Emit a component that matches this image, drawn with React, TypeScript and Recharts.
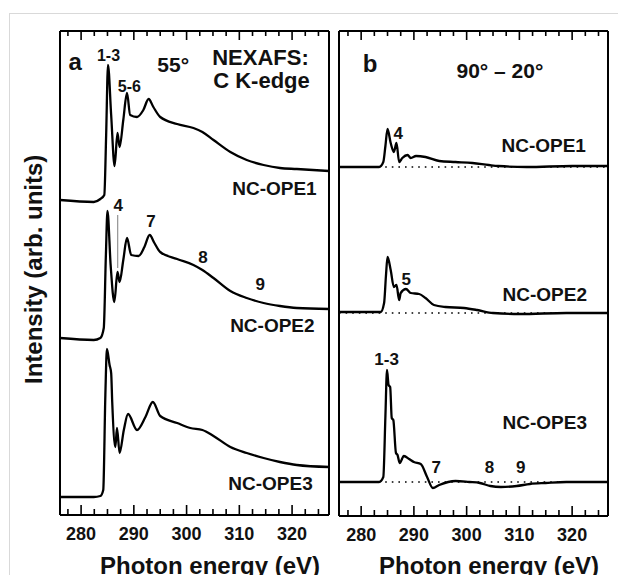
import React from 'react';
import { LineChart, Line, XAxis, YAxis, ReferenceLine, ReferenceDot } from 'recharts';

const FONT = '"Liberation Sans", Arial, Helvetica, sans-serif';

// ---------- tick values (eV) ----------
const tickValues = [277.5, 280, 282.5, 285, 287.5, 290, 292.5, 295, 297.5, 300, 302.5, 305, 307.5, 310, 312.5, 315, 317.5, 320, 322.5, 325];

// ---------- Panel a: NEXAFS 55° (stacked, arb. units) ----------
const energyA1 = [276, 282.4, 283.65, 284.4, 284.75, 285.1, 285.7, 286.35, 286.9, 287.3, 288.0, 288.7, 289.3, 290.6, 291.8, 292.8, 293.7, 295.0, 298.2, 301.3, 303.0, 305.1, 308.3, 311.4, 314.6, 317.7, 320.9, 327];
const intensityA1 = [315, 313, 316, 320, 380, 450, 400, 349, 382, 368, 395, 422, 400, 398, 405, 416, 408, 398, 391, 387, 383, 375, 363, 355, 350, 347, 346, 344];

const energyA2 = [276, 282.4, 283.65, 284.3, 284.7, 285.0, 285.6, 286.3, 286.9, 287.3, 288.0, 288.7, 289.5, 290.9, 292.0, 293.0, 293.9, 295.0, 298.2, 301.3, 303.0, 305.1, 308.3, 311.4, 314.6, 317.7, 320.9, 327];
const intensityA2 = [177, 175, 177, 187, 260, 304, 250, 213, 243, 233, 255, 277, 260, 259, 268, 280, 272, 263, 256, 250, 245, 237, 224, 217, 212, 209, 207, 206];

const energyA3 = [276, 282.4, 283.65, 284.2, 284.6, 284.9, 285.4, 285.7, 285.9, 286.5, 286.8, 287.3, 288.1, 288.9, 290.6, 292.2, 293.6, 295.0, 298.2, 300.7, 303.0, 305.1, 308.3, 311.4, 314.6, 317.7, 320.9, 327];
const intensityA3 = [18, 18, 19, 25, 120, 166, 150, 142, 113, 68, 87, 62, 85, 101, 85, 98, 113, 99, 92, 87, 85, 79, 68, 62, 57, 53, 50, 48];

// ---------- Panel b: difference 90° − 20° (stacked) ----------
const energyB1 = [275.8, 283.4, 284.2, 284.6, 285.0, 285.6, 286.2, 286.7, 287.2, 287.8, 288.8, 289.4, 290.4, 292.2, 294.8, 297.9, 301.1, 304.2, 306.0, 311.4, 320, 326.8];
const intensityB1 = [349, 349, 354, 370, 387, 373, 364, 373, 354, 358, 361, 358, 360, 359, 355, 354, 353, 351, 350, 349, 350, 350];

const energyB2 = [275.8, 283.7, 284.35, 284.7, 285.0, 285.6, 286.2, 286.7, 287.2, 287.5, 288.5, 289.4, 291.0, 292.2, 293.8, 296.0, 299.5, 302.0, 305.0, 310.1, 318.9, 326.8];
const intensityB2 = [204, 204, 213, 240, 259, 246, 229, 231, 216, 223, 227, 223, 222, 218, 211, 209, 208, 206, 203, 202, 203, 203];

const energyB3 = [275.8, 283.4, 284.2, 284.6, 284.9, 285.2, 285.5, 285.8, 286.1, 286.6, 286.9, 287.3, 288.1, 289.1, 290.0, 291.3, 292.5, 293.6, 294.8, 297.9, 300.5, 302.5, 304.5, 306.5, 309.5, 312.0, 315.0, 318.9, 326.8];
const intensityB3 = [34, 34, 39, 100, 146, 131, 129, 98, 96, 63, 61, 53, 60, 57, 54, 52, 39, 28, 31, 35, 34, 33, 30, 29, 30, 32, 33, 34, 34];

const baselinesB = [349, 203, 34];

// ---------- annotations (data coordinates) ----------
type Note = { e: number; v: number; text: string; kind: string; anchor: 'start' | 'middle' | 'end' };
const notesA: Note[] = [
  { e: 278.9, v: 445, text: 'a', kind: 'panel', anchor: 'middle' },
  { e: 285.2, v: 454, text: '1-3', kind: 'small', anchor: 'middle' },
  { e: 289.15, v: 423, text: '5-6', kind: 'small', anchor: 'middle' },
  { e: 294.45, v: 443, text: '55°', kind: 'title', anchor: 'start' },
  { e: 304.85, v: 450, text: 'NEXAFS:', kind: 'big', anchor: 'start' },
  { e: 305.05, v: 427, text: 'C K-edge', kind: 'big', anchor: 'start' },
  { e: 308.65, v: 320, text: 'NC-OPE1', kind: 'name', anchor: 'start' },
  { e: 308.26, v: 183.5, text: 'NC-OPE2', kind: 'name', anchor: 'start' },
  { e: 307.9, v: 25, text: 'NC-OPE3', kind: 'name', anchor: 'start' },
  { e: 287.05, v: 304, text: '4', kind: 'num', anchor: 'middle' },
  { e: 293.25, v: 288.5, text: '7', kind: 'num', anchor: 'middle' },
  { e: 303.1, v: 252.5, text: '8', kind: 'num', anchor: 'middle' },
  { e: 313.95, v: 225, text: '9', kind: 'num', anchor: 'middle' },
];
const notesB: Note[] = [
  { e: 281.7, v: 444.5, text: 'b', kind: 'panel', anchor: 'middle' },
  { e: 298.08, v: 437.7, text: '90° – 20°', kind: 'title', anchor: 'start' },
  { e: 306.6, v: 363.7, text: 'NC-OPE1', kind: 'name', anchor: 'start' },
  { e: 306.8, v: 215.3, text: 'NC-OPE2', kind: 'name', anchor: 'start' },
  { e: 306.8, v: 86.7, text: 'NC-OPE3', kind: 'name', anchor: 'start' },
  { e: 287.04, v: 377, text: '4', kind: 'num', anchor: 'middle' },
  { e: 288.55, v: 231, text: '5', kind: 'num', anchor: 'middle' },
  { e: 284.83, v: 151, text: '1-3', kind: 'num', anchor: 'middle' },
  { e: 294.23, v: 42.7, text: '7', kind: 'num', anchor: 'middle' },
  { e: 304.32, v: 42.7, text: '8', kind: 'num', anchor: 'middle' },
  { e: 310.25, v: 42.7, text: '9', kind: 'num', anchor: 'middle' },
];

const fontSizes: Record<string, number> = { panel: 24, small: 16, title: 21, big: 22, name: 19, num: 17 };

const toPoints = (e: number[], i: number[]) => e.map((x, k) => ({ e: x, i: i[k] }));

const BottomTick = (props: any) => {
  const { x, y, payload } = props;
  const v = Number(payload.value);
  const major = Math.abs(v % 10) < 1e-6;
  return (
    <g>
      <line x1={x} y1={y} x2={x} y2={y - (major ? 10 : 6)} stroke="#000" strokeWidth={1.6} />
      {major && (
        <text x={x} y={y + 25} textAnchor="middle" fontSize={18} fontWeight="bold" fontFamily={FONT} fill="#111">
          {v}
        </text>
      )}
    </g>
  );
};

const TopTick = (props: any) => {
  const { x, y, payload } = props;
  const v = Number(payload.value);
  const major = Math.abs(v % 10) < 1e-6;
  return <line x1={x} y1={y} x2={x} y2={y + (major ? 9 : 5)} stroke="#000" strokeWidth={1.6} />;
};

const noteLabel = (n: Note) => (props: any) => {
  const vb = props.viewBox || {};
  const cx = (vb.x ?? 0) + (vb.width ?? 0) / 2;
  const cy = (vb.y ?? 0) + (vb.height ?? 0) / 2;
  return (
    <text x={cx} y={cy} textAnchor={n.anchor} fontSize={fontSizes[n.kind]} fontWeight="bold" fontFamily={FONT} fill="#111">
      {n.text}
    </text>
  );
};

type PanelProps = {
  width: number;
  height: number;
  margin: { top: number; right: number; bottom: number; left: number };
  xDomain: [number, number];
  yDomain: [number, number];
  series: { e: number; i: number }[][];
  notes: Note[];
  baselines?: number[];
  marker?: boolean;
};

const Panel = ({ width, height, margin, xDomain, yDomain, series, notes, baselines, marker }: PanelProps) => (
  <LineChart width={width} height={height} margin={margin}>
    <XAxis
      dataKey="e"
      type="number"
      domain={xDomain}
      allowDataOverflow
      ticks={tickValues}
      interval={0}
      height={1}
      tickSize={0}
      tickMargin={0}
      tickLine={false}
      tick={<BottomTick />}
      axisLine={{ stroke: '#000', strokeWidth: 2 }}
    />
    <XAxis
      xAxisId="top"
      orientation="top"
      dataKey="e"
      type="number"
      domain={xDomain}
      allowDataOverflow
      ticks={tickValues}
      interval={0}
      height={1}
      tickSize={0}
      tickMargin={0}
      tickLine={false}
      tick={<TopTick />}
      axisLine={{ stroke: '#000', strokeWidth: 2 }}
    />
    <YAxis type="number" domain={yDomain} allowDataOverflow width={1} tick={false} tickLine={false} axisLine={{ stroke: '#000', strokeWidth: 2 }} />
    <YAxis
      yAxisId="right"
      orientation="right"
      type="number"
      domain={yDomain}
      allowDataOverflow
      width={1}
      tick={false}
      tickLine={false}
      axisLine={{ stroke: '#000', strokeWidth: 2 }}
    />
    {(baselines || []).map((b, k) => (
      <ReferenceLine key={'bl' + k} y={b} stroke="#000" strokeWidth={1.4} strokeDasharray="1.6 5" />
    ))}
    {marker && (
      <ReferenceLine
        segment={[
          { x: 286.93, y: 300 },
          { x: 286.93, y: 247 },
        ]}
        stroke="#9a9a9a"
        strokeWidth={1.3}
      />
    )}
    {series.map((s, k) => (
      <Line
        key={'s' + k}
        data={s}
        dataKey="i"
        type="monotone"
        stroke="#000"
        strokeWidth={2.3}
        dot={false}
        activeDot={false}
        isAnimationActive={false}
      />
    ))}
    {notes.map((n, k) => (
      <ReferenceDot key={'n' + k} x={n.e} y={n.v} r={0} fill="none" stroke="none" ifOverflow="visible" label={noteLabel(n)} />
    ))}
  </LineChart>
);

export default function App() {
  const seriesA = [toPoints(energyA1, intensityA1), toPoints(energyA2, intensityA2), toPoints(energyA3, intensityA3)];
  const seriesB = [toPoints(energyB1, intensityB1), toPoints(energyB2, intensityB2), toPoints(energyB3, intensityB3)];
  const titleStyle = { fontFamily: FONT, fontWeight: 'bold' as const, fontSize: 24, fill: '#111' };
  return (
    <div style={{ position: 'absolute', left: 0, top: 0, width: 618, height: 575, overflow: 'hidden', background: '#fff' }}>
      <div style={{ position: 'absolute', left: 9, top: 13, width: 640, height: 600, border: '1px solid #d9d9d9' }} />
      <div style={{ position: 'absolute', left: 0, top: 0 }}>
        <Panel
          width={340}
          height={575}
          margin={{ top: 30, right: 10, bottom: 59, left: 59 }}
          xDomain={[276, 327]}
          yDomain={[0, 484]}
          series={seriesA}
          notes={notesA}
          marker
        />
      </div>
      <div style={{ position: 'absolute', left: 330, top: 0 }}>
        <Panel
          width={288}
          height={575}
          margin={{ top: 30, right: 9, bottom: 58, left: 8 }}
          xDomain={[275.8, 326.8]}
          yDomain={[0, 485]}
          series={seriesB}
          notes={notesB}
          baselines={baselinesB}
        />
      </div>
      <svg width={618} height={575} style={{ position: 'absolute', left: 0, top: 0, pointerEvents: 'none' }}>
        <text x={42} y={384} transform="rotate(-90 42 384)" textAnchor="start" style={titleStyle}>
          Intensity (arb. units)
        </text>
        <text x={100} y={574} textAnchor="start" style={titleStyle}>
          Photon energy (eV)
        </text>
        <text x={379} y={574} textAnchor="start" style={titleStyle}>
          Photon energy (eV)
        </text>
      </svg>
    </div>
  );
}
